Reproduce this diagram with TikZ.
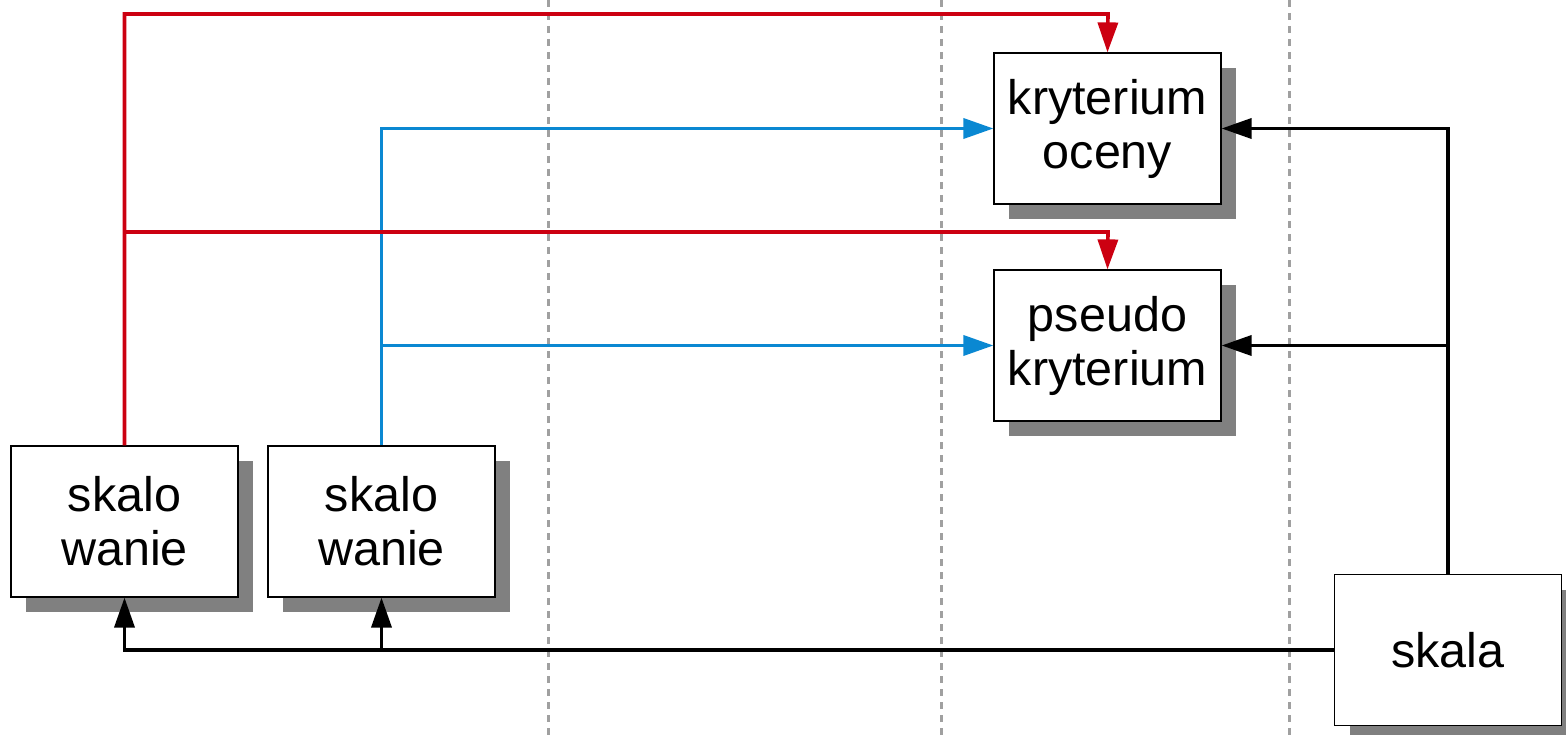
\documentclass[tikz,border=0pt]{standalone}
\usepackage{fontspec}
\setmainfont{Liberation Sans}
\usetikzlibrary{arrows.meta,shadows}
\definecolor{kred}{HTML}{CC0011}
\definecolor{kblue}{HTML}{0A88D2}
\definecolor{kgrid}{HTML}{A0A0A0}

\begin{document}
\begin{tikzpicture}[x=1pt,y=-1pt,>={Triangle[length=30pt,width=20pt]},
  box/.style={draw,line width=1.2pt,fill=white,minimum width=227pt,minimum height=151pt,
    align=center,font=\fontsize{48.5}{54}\selectfont,
    drop shadow={shadow xshift=15pt,shadow yshift=-15pt,fill=black!50,opacity=1}},
  link/.style={line width=3.6pt},
  grid/.style={kgrid,line width=3pt,dash pattern=on 7pt off 6pt}]
 \useasboundingbox (0,0) rectangle (1566,735);
 % dividers
 \foreach \gx in {548,941,1289}
  \draw[grid] (\gx,0)--(\gx,735);
 \node[box] (krit) at (1107.5,128.5) {kryterium\\oceny};
 \node[box] (pseudo) at (1107.5,345.5) {pseudo\\kryterium};
 \node[box] (skal1) at (124.5,521.5) {skalo\\wanie};
 \node[box] (skal2) at (381.5,521.5) {skalo\\wanie};
 \node[box] (skala) at (1448,650) {skala};
 \coordinate (redtop) at (1108,14);
 \coordinate (redmid) at (1108,232);
 % scale to criteria
 \draw[link,->] (skala.north) |- (krit.east);
 \draw[link,->] (skala.north |- pseudo.east) -- (pseudo.east);
 \draw[link,->] (skala.west) -| (skal1.south);
 \draw[link,->] (skal2.south |- skala.west) -- (skal2.south);
 % blue
 \draw[link,kblue,->] (skal2.north) |- (krit.west);
 \draw[link,kblue,->] (skal2.north |- pseudo.west) -- (pseudo.west);
 % red
 \draw[link,kred,->] (skal1.north) |- (redtop) -- (krit.north);
 \draw[link,kred,->] (skal1.north |- redmid) -- (redmid) -- (pseudo.north);
\end{tikzpicture}
\end{document}
